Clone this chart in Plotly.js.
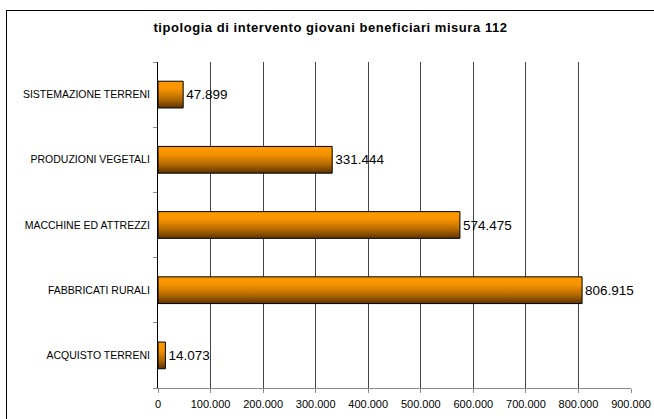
<!DOCTYPE html>
<html><head><meta charset="utf-8">
<script src="https://cdn.plot.ly/plotly-3.0.1.min.js"></script>
<style>
html,body{margin:0;padding:0;background:#fff;width:654px;height:419px;overflow:hidden}
#plot{position:absolute;left:6px;top:10px;width:648px;height:409px;border-left:1px solid #000;border-top:1px solid #000;box-sizing:border-box}
</style></head><body>
<div id="plot"></div>
<script>
const categories = ["ACQUISTO TERRENI","FABBRICATI RURALI","MACCHINE ED ATTREZZI","PRODUZIONI VEGETALI","SISTEMAZIONE TERRENI"];
const values = [14073, 806915, 574475, 331444, 47899];
const xTicks = [0,100000,200000,300000,400000,500000,600000,700000,800000,900000];
const titleText = "tipologia di intervento giovani beneficiari misura 112";

const trace = {
  type: 'bar', orientation: 'h',
  y: categories, x: values,
  marker: {color: '#e08600', line: {color: '#000', width: 1}},
  texttemplate: '%{x:,.0f}', textposition: 'outside',
  textfont: {family: 'Liberation Sans, Arial, sans-serif', size: 13.5, color: '#000'},
  cliponaxis: false, hoverinfo: 'none'
};
const layout = {
  width: 647, height: 408,
  margin: {l: 151, r: 23, t: 51, b: 31},
  paper_bgcolor: '#fff', plot_bgcolor: '#fff',
  separators: ',.',
  bargap: 0.59,
  showlegend: false,
  font: {family: 'Liberation Sans, Arial, sans-serif', color: '#000'},
  title: {text: '<b>' + titleText + '</b>', font: {size: 13, color: '#000'}, x: 0.5, xanchor: 'center', y: 0.96, yanchor: 'middle', yref: 'container'},
  xaxis: {range: [0, 900000], tickvals: xTicks, tickformat: ',.0f', showgrid: true, gridcolor: '#444', gridwidth: 1,
          zeroline: false, showline: true, linecolor: '#888', linewidth: 1, ticks: 'outside', ticklen: 4, tickcolor: '#888',
          ticklabelstandoff: 2,
          tickfont: {size: 11, color: '#000'}, fixedrange: true},
  yaxis: {type: 'category', categoryorder: 'array', categoryarray: categories, showgrid: false, zeroline: false,
          showline: true, linecolor: '#000', linewidth: 1, ticks: 'outside', ticklen: 4, tickcolor: '#888', tickson: 'boundaries',
          ticklabelstandoff: 5,
          tickfont: {size: 10.5, color: '#000'}, fixedrange: true}
};
Plotly.newPlot('plot', [trace], layout, {staticPlot: true, displayModeBar: false}).then(function(gd){
  const svg = gd.querySelector('svg.main-svg');
  const ns = 'http://www.w3.org/2000/svg';
  let defs = svg.querySelector('defs');
  if (!defs) { defs = document.createElementNS(ns, 'defs'); svg.insertBefore(defs, svg.firstChild); }
  const g = document.createElementNS(ns, 'linearGradient');
  g.setAttribute('id', 'barGrad'); g.setAttribute('x1', '0'); g.setAttribute('y1', '0'); g.setAttribute('x2', '0'); g.setAttribute('y2', '1');
  [['0', '#ff9a00'], ['0.3', '#f59300'], ['0.65', '#b86c00'], ['1', '#5e3300']].forEach(function(s){
    const st = document.createElementNS(ns, 'stop'); st.setAttribute('offset', s[0]); st.setAttribute('stop-color', s[1]); g.appendChild(st);
  });
  defs.appendChild(g);
  gd.querySelectorAll('.barlayer .point path').forEach(function(p){ p.style.fill = 'url(#barGrad)'; p.style.fillOpacity = 1; });
  gd.querySelectorAll('.gtitle').forEach(function(t){ t.style.letterSpacing = '0.55px'; });
});
</script>
</body></html>
